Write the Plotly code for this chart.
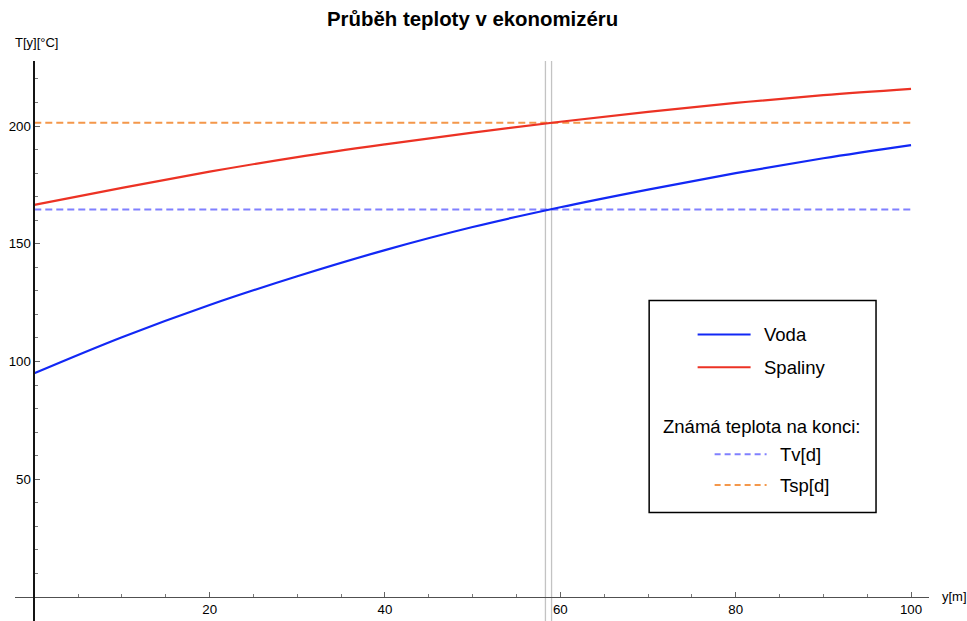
import plotly.graph_objects as go

# ---------------- data ----------------
y_pos = [0, 10, 20, 30, 40, 50, 60, 70, 80, 90, 100]
t_voda = [95.0, 110.3, 124.0, 136.2, 147.3, 157.1, 165.5, 173.0, 180.0, 186.3, 191.9]
t_spaliny = [166.5, 173.7, 180.6, 186.8, 192.2, 197.2, 201.8, 206.0, 209.8, 213.1, 215.8]
tv_d = 164.5      # known water temperature at the end
tsp_d = 201.4     # known flue gas temperature at the end
x_marks = [58.3, 59.0]   # vertical gray marker lines

x_ticks = [20, 40, 60, 80, 100]
x_minor = [5, 10, 15, 25, 30, 35, 45, 50, 55, 65, 70, 75, 85, 90, 95]
y_ticks = [50, 100, 150, 200]
y_minor = [10, 20, 30, 40, 60, 70, 80, 90, 110, 120, 130, 140, 160, 170, 180, 190, 210, 220]

title_text = "Průběh teploty v ekonomizéru"
x_label = "y[m]"
y_label = "T[y][°C]"
legend_names = ["Voda", "Spaliny"]
legend_heading = "Známá teplota na konci:"
legend_dash_names = ["Tv[d]", "Tsp[d]"]

# ---------------- geometry ----------------
W, H = 967, 621
PL, PR, PT, PB = 15, 929.5, 61, 621
X_RANGE = [-2.2, 102.05]
Y_RANGE = [-10.19, 227.6]

def px(x):
    return (x - PL) / (PR - PL)

def py(y):
    return (PB - y) / (PB - PT)

C_BLUE = "rgb(18,40,245)"
C_RED = "rgb(236,50,36)"
C_LBLUE = "rgb(128,128,255)"
C_ORANGE = "rgb(244,151,74)"
FONT = "Liberation Sans, Arial, Helvetica, sans-serif"

fig = go.Figure()

# vertical marker lines
for xm in x_marks:
    fig.add_trace(go.Scatter(x=[xm, xm], y=Y_RANGE, mode="lines",
                             line=dict(color="rgb(195,195,195)", width=1.3),
                             showlegend=False, hoverinfo="skip"))

# known end temperatures (dashed)
fig.add_trace(go.Scatter(x=[0, 100], y=[tv_d, tv_d], mode="lines",
                         line=dict(color=C_LBLUE, width=2, dash="7px,4px"),
                         showlegend=False))
fig.add_trace(go.Scatter(x=[0, 100], y=[tsp_d, tsp_d], mode="lines",
                         line=dict(color=C_ORANGE, width=2, dash="7px,4px"),
                         showlegend=False))

# curves
fig.add_trace(go.Scatter(x=y_pos, y=t_voda, mode="lines", name=legend_names[0],
                         line=dict(color=C_BLUE, width=2.2, shape="spline", smoothing=1.0),
                         showlegend=False))
fig.add_trace(go.Scatter(x=y_pos, y=t_spaliny, mode="lines", name=legend_names[1],
                         line=dict(color=C_RED, width=2.2, shape="spline", smoothing=1.0),
                         showlegend=False))

shapes = []
annotations = []

# legend box
shapes.append(dict(type="rect", xref="paper", yref="paper",
                   x0=px(649.5), x1=px(876.5), y0=py(512.5), y1=py(300.5),
                   line=dict(color="black", width=1.5), fillcolor="white", layer="above"))
legend_rows = [
    (legend_names[0], C_BLUE, "solid", 698, 751, 762, 334.5),
    (legend_names[1], C_RED, "solid", 698, 751, 762, 367.3),
    (legend_dash_names[0], C_LBLUE, "6px,4px", 715, 767, 778, 454.3),
    (legend_dash_names[1], C_ORANGE, "6px,4px", 715, 767, 778, 485.0),
]
for name, col, dash, x0, x1, tx, yy in legend_rows:
    shapes.append(dict(type="line", xref="paper", yref="paper",
                       x0=px(x0), x1=px(x1), y0=py(yy), y1=py(yy),
                       line=dict(color=col, width=2, dash=dash), layer="above"))
    annotations.append(dict(text=name, xref="paper", yref="paper", x=px(tx), y=py(yy),
                            xanchor="left", yanchor="middle", showarrow=False,
                            font=dict(family=FONT, size=18.5, color="black")))
annotations.append(dict(text=legend_heading, xref="paper", yref="paper", x=px(762), y=py(426.5),
                        xanchor="center", yanchor="middle", showarrow=False,
                        font=dict(family=FONT, size=18.5, color="black")))

# title and axis labels
annotations.append(dict(text="<b>" + title_text + "</b>", xref="paper", yref="paper",
                        x=px(472.5), y=py(19), xanchor="center", yanchor="middle",
                        showarrow=False, font=dict(family=FONT, size=20.4, color="black")))
annotations.append(dict(text=y_label, xref="paper", yref="paper", x=px(12.5), y=py(42.7),
                        xanchor="left", yanchor="middle", showarrow=False,
                        font=dict(family=FONT, size=13, color="black")))
annotations.append(dict(text=x_label, xref="paper", yref="paper", x=px(940.5), y=py(596),
                        xanchor="left", yanchor="middle", showarrow=False,
                        font=dict(family=FONT, size=13, color="black")))

x_axis_pos = (0 - Y_RANGE[0]) / (Y_RANGE[1] - Y_RANGE[0])
y_axis_pos = (0 - X_RANGE[0]) / (X_RANGE[1] - X_RANGE[0])

fig.update_layout(
    width=W, height=H,
    margin=dict(l=PL, r=W - PR, t=PT, b=H - PB, pad=0),
    paper_bgcolor="white", plot_bgcolor="white",
    showlegend=False,
    shapes=shapes, annotations=annotations,
    font=dict(family=FONT, size=13, color="black"),
    xaxis=dict(range=X_RANGE, anchor="free", position=x_axis_pos,
               showgrid=False, zeroline=False,
               showline=True, linecolor="rgb(80,80,80)", linewidth=1.4,
               tickmode="array", tickvals=x_ticks, ticktext=[str(v) for v in x_ticks],
               ticks="inside", ticklen=5, tickwidth=1, tickcolor="rgb(100,100,100)",
               minor=dict(tickmode="array", tickvals=x_minor, ticks="inside",
                          ticklen=3, tickwidth=1, tickcolor="rgb(120,120,120)"),
               tickfont=dict(family=FONT, size=13.3, color="black")),
    yaxis=dict(range=Y_RANGE, anchor="free", position=y_axis_pos,
               showgrid=False, zeroline=False,
               showline=True, linecolor="rgb(20,20,20)", linewidth=1.5,
               tickmode="array", tickvals=y_ticks, ticktext=[str(v) for v in y_ticks],
               ticks="inside", ticklen=5, tickwidth=1, tickcolor="rgb(100,100,100)",
               minor=dict(tickmode="array", tickvals=y_minor, ticks="inside",
                          ticklen=3, tickwidth=1, tickcolor="rgb(120,120,120)"),
               tickfont=dict(family=FONT, size=13.3, color="black")),
)

fig.write_html("out.html")
